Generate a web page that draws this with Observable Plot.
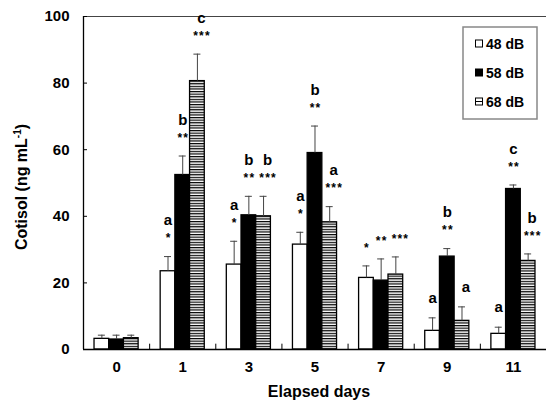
<!DOCTYPE html>
<html><head><meta charset="utf-8">
<script src="https://cdn.jsdelivr.net/npm/d3@7"></script>
<script src="https://cdn.jsdelivr.net/npm/@observablehq/plot@0.6"></script>
<style>body{margin:0;background:#fff}</style>
</head><body><div id="chart"></div>
<script>
const days = ["0", "1", "3", "5", "7", "9", "11"];
const series = ["48 dB", "58 dB", "68 dB"];
const mean48 = [3.2, 23.5, 25.5, 31.5, 21.5, 5.6, 4.7];
const mean58 = [3.0, 52.4, 40.3, 59.0, 20.7, 27.9, 48.2];
const mean68 = [3.4, 80.6, 40.0, 38.2, 22.5, 8.6, 26.6];
const err48 = [1.1, 4.4, 7.0, 3.7, 3.6, 3.9, 2.0];
const err58 = [1.3, 5.7, 5.7, 8.1, 6.5, 2.4, 1.2];
const err68 = [0.9, 8.1, 6.0, 4.7, 5.3, 4.2, 2.1];
const letters48 = ["", "a", "a", "a", "", "a", "a"];
const letters58 = ["", "b", "b", "b", "", "b", "c"];
const letters68 = ["", "c", "b", "a", "", "a", "b"];
const stars48 = ["", "*", "*", "*", "*", "", ""];
const stars58 = ["", "**", "**", "**", "**", "**", "**"];
const stars68 = ["", "***", "***", "***", "***", "", "***"];
const yTicks = [0, 20, 40, 60, 80, 100];

const means = [mean48, mean58, mean68];
const errs = [err48, err58, err68];
const letters = [letters48, letters58, letters68];
const stars = [stars48, stars58, stars68];

const W = 546, H = 404, ML = 83, MR = 0, MT = 16, MB = 55;
const bw = (W - ML - MR) / days.length;
const barW = 14.7;
const inset = (bw - barW) / 2;
const fills = ["white", "black", "url(#hatch)"];
const labelShift = [0, 0, 4];

const marks = [
  () => {
    const defs = d3.create("svg:defs");
    const p = defs.append("pattern").attr("id", "hatch").attr("patternUnits", "userSpaceOnUse")
      .attr("width", 6).attr("height", 2.6);
    p.append("rect").attr("width", 6).attr("height", 2.6).attr("fill", "white");
    p.append("rect").attr("y", 0).attr("width", 6).attr("height", 1.2).attr("fill", "#000");
    return defs.node();
  },
  Plot.ruleY([100], {stroke: "#444", strokeWidth: 1.2})
];

series.forEach((s, i) => {
  const rows = days.map((d, j) => ({
    day: d, mean: means[i][j], err: errs[i][j], top: means[i][j] + errs[i][j],
    letter: letters[i][j], stars: stars[i][j]
  }));
  const dx = (i - 1) * barW;
  const ldx = dx + labelShift[i];
  marks.push(Plot.barY(rows, {x: "day", y: "mean", dx, insetLeft: inset, insetRight: inset,
    fill: fills[i], stroke: "black", strokeWidth: 1.3}));
  marks.push(Plot.ruleX(rows, {x: "day", y1: "mean", y2: "top", dx, stroke: "#444", strokeWidth: 1}));
  marks.push(Plot.tickY(rows, {x: "day", y: "top", dx, insetLeft: bw / 2 - 3.5, insetRight: bw / 2 - 3.5,
    stroke: "#444", strokeWidth: 1}));
  marks.push(Plot.text(rows.filter(r => r.stars), {x: "day", y: "top", text: "stars", dx: ldx + 0.6, dy: -18, fontSize: 12}));
  marks.push(Plot.text(rows.filter(r => r.letter && r.stars), {x: "day", y: "top", text: "letter", dx: ldx, dy: -36, fontSize: 15}));
  marks.push(Plot.text(rows.filter(r => r.letter && !r.stars), {x: "day", y: "top", text: "letter", dx: ldx, dy: -20, fontSize: 15}));
});

marks.push(
  Plot.ruleX(days.slice(1), {x: d => d, y1: 0, y2: 1.6, dx: -bw / 2, stroke: "black", strokeWidth: 1}),
  Plot.tickY(yTicks, {x: () => days[0], y: d => d, insetRight: bw - 4, stroke: "black", strokeWidth: 1}),
  Plot.ruleX([days[0]], {x: d => d, dx: -bw / 2, stroke: "black", strokeWidth: 1.3}),
  Plot.ruleY([0], {stroke: "black", strokeWidth: 1.3}),
  Plot.axisX({tickSize: 0, tickPadding: 12, fontSize: 15, label: null}),
  Plot.axisY({ticks: yTicks, tickSize: 0, tickPadding: 14, fontSize: 15, label: null})
);

const chart = Plot.plot({
  width: W, height: H,
  marginLeft: ML, marginRight: MR, marginTop: MT, marginBottom: MB,
  style: {fontFamily: "'Liberation Sans', Arial, sans-serif", fontWeight: "bold", fontSize: "15px", background: "white", color: "black"},
  x: {domain: days, padding: 0, round: false},
  y: {domain: [0, 100]},
  marks
});

const svg = d3.select(chart);
// spread the significance asterisks a little
svg.selectAll("text").filter(function() { return /^\*+$/.test(this.textContent); })
  .attr("letter-spacing", "1.2px");

// Axis titles
const yt = svg.append("text").attr("transform", "translate(27,187) rotate(-90)")
  .attr("text-anchor", "middle").attr("font-size", 16).attr("font-weight", "bold").attr("fill", "black");
yt.append("tspan").text("Cotisol (ng mL");
yt.append("tspan").attr("font-size", 10).attr("dy", -6).text("-1");
yt.append("tspan").attr("dy", 6).text(")");
svg.append("text").attr("x", 319).attr("y", 397).attr("text-anchor", "middle")
  .attr("font-size", 16).attr("font-weight", "bold").attr("fill", "black").text("Elapsed days");

// Legend
const lg = svg.append("g").attr("text-anchor", "start");
lg.append("rect").attr("x", 463).attr("y", 27).attr("width", 74).attr("height", 92)
  .attr("fill", "white").attr("stroke", "#888").attr("stroke-width", 1.5);
const rowsY = [43.5, 72.5, 101.5];
series.forEach((s, i) => {
  const y = rowsY[i];
  lg.append("rect").attr("x", 475.5).attr("y", y - 3.5).attr("width", 7).attr("height", 7)
    .attr("fill", i === 1 ? "black" : "white").attr("stroke", "black").attr("stroke-width", 1);
  if (i === 2) lg.append("line").attr("x1", 475.5).attr("x2", 482.5).attr("y1", y).attr("y2", y)
    .attr("stroke", "black").attr("stroke-width", 1);
  lg.append("text").attr("x", 486).attr("y", y).attr("dy", "0.36em").attr("font-size", 14)
    .attr("text-anchor", "start").attr("font-weight", "bold").attr("fill", "black").text(s);
});

document.getElementById("chart").appendChild(chart);
</script>
</body></html>
